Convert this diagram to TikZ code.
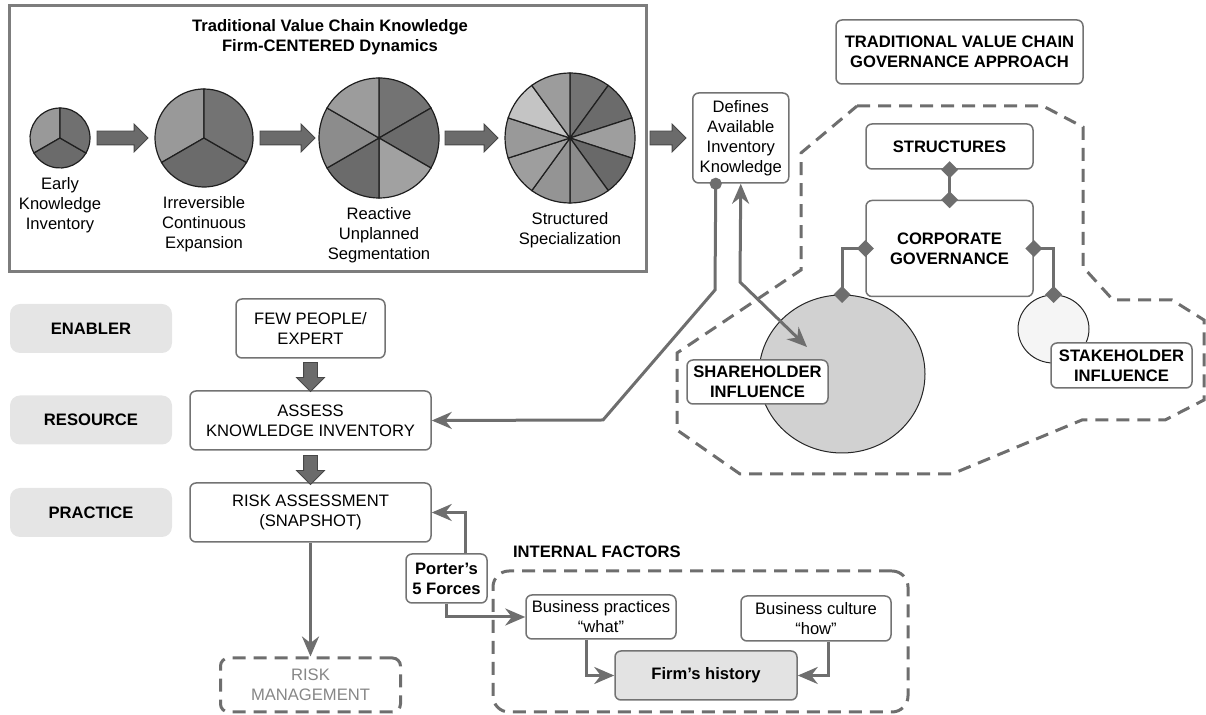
\documentclass[tikz,border=0pt]{standalone}
\usepackage{fontspec}
\setmainfont{Liberation Sans}
\usetikzlibrary{positioning,shapes.geometric,shapes.arrows,arrows.meta}

\begin{document}
\begin{tikzpicture}[x=0.5pt, y=-0.5pt,
    pie node/.style={circle, inner sep=0pt, outer sep=0pt},
    big arrow/.style={single arrow, fill=black!58, draw=black!72, line width=0.4pt,
      inner sep=3.25pt, outer sep=0pt, single arrow head extend=3.5pt},
    pie line/.style={draw=black!88, line width=0.6pt},
    box node/.style={draw=black!55, line width=0.75pt, rounded corners=3pt, fill=white,
      align=center, inner sep=1pt},
    bold/.style={font=\fontsize{8.3pt}{10pt}\selectfont\bfseries},
    bold box/.style={box node, bold},
    tag node/.style={fill=black!10, rounded corners=5pt, minimum width=81pt,
      minimum height=24.5pt, bold},
    dash line/.style={draw=black!57, line width=1.5pt, dash pattern=on 6.5pt off 4pt},
    conn/.style={draw=black!57, line width=1.5pt, >={Stealth[length=10pt,width=8.5pt]}},
    diam/.style={conn, arrows={Diamond[length=8.5pt,width=8.5pt]-Diamond[length=8.5pt,width=8.5pt]},
      shorten <=-4.25pt, shorten >=-4.25pt}]
  \tikzstyle{every node}=[font=\fontsize{8.3pt}{10pt}\selectfont]
  \useasboundingbox (0,0) rectangle (1206,715);

  % governance area
  \draw[dash line] (857,106) -- (1043,106) -- (1083,127) -- (1083,267) -- (1113,300)
    -- (1172,300) -- (1204,320) -- (1204,400) -- (1165,420) -- (1082,420) -- (952,474)
    -- (740,474) -- (677,430) -- (677,353) -- (801,270) -- (801,153) -- cycle;

  % knowledge dynamics
  \node[draw=black!51, line width=1.5pt, minimum width=318.5pt, minimum height=133pt, inner sep=0pt] (0) at (328,138.5) {};
  \node[bold, align=center] (t) at (330,37) {Traditional Value Chain Knowledge\\Firm-CENTERED Dynamics};

  \node[pie node, minimum size=30pt] (1) at (60,138) {};
  \node[big arrow, minimum height=25.5pt, right=3.5pt of 1] (a1) {};
  \node[pie node, minimum size=49pt, right=3.5pt of a1] (2) {};
  \node[big arrow, minimum height=27.5pt, right=3.5pt of 2] (a2) {};
  \node[pie node, minimum size=60pt, right=2pt of a2] (3) {};
  \node[big arrow, minimum height=26.5pt, right=3pt of 3] (a3) {};
  \node[pie node, minimum size=65pt, right=3.5pt of a3] (4) {};
  \node[big arrow, minimum height=18pt, right=7.5pt of 4] (a4) {};
  \node[box node, minimum width=48pt, minimum height=45pt, right=3pt of a4] (5) {Defines\\Available\\Inventory\\Knowledge};

  \foreach \a/\b/\c in {150/270/40, 30/150/58, -90/30/56}
    \filldraw[pie line, fill=black!\c] (1.center) -- +(\a:30) arc[start angle=\a, end angle=\b, radius=30] -- cycle;
  \foreach \a/\b/\c in {150/270/40, 30/150/58, -90/30/55}
    \filldraw[pie line, fill=black!\c] (2.center) -- +(\a:49) arc[start angle=\a, end angle=\b, radius=49] -- cycle;
  \foreach \a/\b/\c in {-90/-30/55, -30/30/58, 30/90/37, 90/150/58, 150/210/45, 210/270/39}
    \filldraw[pie line, fill=black!\c] (3.center) -- +(\a:60) arc[start angle=\a, end angle=\b, radius=60] -- cycle;
  \foreach \a/\b/\c in {-90/-54/55, -54/-18/58, -18/18/38, 18/54/59, 54/90/45, 90/126/42,
      126/162/38, 162/198/40, 198/234/23, 234/270/39}
    \filldraw[pie line, fill=black!\c] (4.center) -- +(\a:65) arc[start angle=\a, end angle=\b, radius=65] -- cycle;

  \node[below=3.5pt of 1, align=center, inner sep=1pt] (1l) {Early\\Knowledge\\Inventory};
  \node[below=3.5pt of 2, align=center, inner sep=1pt] (2l) {Irreversible\\Continuous\\Expansion};
  \node[below=3.5pt of 3, align=center, inner sep=1pt] (3l) {Reactive\\Unplanned\\Segmentation};
  \node[below=3.5pt of 4, align=center, inner sep=1pt] (4l) {Structured\\Specialization};

  % governance approach
  \node[bold box, minimum width=123.5pt, minimum height=32pt] (6) at (959.5,52) {TRADITIONAL VALUE CHAIN\\GOVERNANCE APPROACH};
  \node[bold box, minimum width=83.5pt, minimum height=22.5pt] (7) at (949.5,146.5) {STRUCTURES};
  \node[bold box, minimum width=83.5pt, minimum height=48pt, below=15pt of 7] (8) {CORPORATE\\GOVERNANCE};
  \node[ellipse, draw=black!85, line width=0.5pt, fill=black!18, minimum width=83pt, minimum height=79pt] (9) at (842,374) {};
  \node[ellipse, draw=black!85, line width=0.5pt, fill=black!4, minimum width=35.5pt, minimum height=34pt] (10) at (1053.5,329) {};
  \node[bold box, minimum width=70.5pt, minimum height=22pt] (11) at (757.5,382) {SHAREHOLDER\\INFLUENCE};
  \node[bold box, minimum width=70.5pt, minimum height=22.5pt] (12) at (1121.5,365.5) {STAKEHOLDER\\INFLUENCE};

  % value chain steps
  \node[tag node] (13) at (91,328.5) {ENABLER};
  \node[tag node] (14) at (91,420) {RESOURCE};
  \node[tag node] (15) at (91,512.5) {PRACTICE};
  \node[box node, minimum width=74.5pt, minimum height=29.5pt] (16) at (310.5,328.5) {FEW PEOPLE/\\EXPERT};
  \node[box node, minimum width=120.5pt, minimum height=29.5pt] (17) at (310.5,420.5) {ASSESS\\KNOWLEDGE INVENTORY};
  \node[box node, minimum width=120.5pt, minimum height=29.5pt] (18) at (310.5,512.5) {RISK ASSESSMENT\\(SNAPSHOT)};
  \node[big arrow, rotate=-90, minimum height=14.5pt] (a5) at (310.5,373.5) {};
  \node[big arrow, rotate=-90, minimum height=14.5pt] (a6) at (310.5,466.5) {};
  \node[box node, dash line, rounded corners=4pt, text=black!47, minimum width=90pt, minimum height=27pt] (19) at (310.5,685) {RISK\\MANAGEMENT};

  % internal factors
  \node[bold box, minimum width=40.5pt, minimum height=24.5pt] (20) at (446.5,578.5) {Porter’s\\5 Forces};
  \node[dash line, rounded corners=8pt, minimum width=207.5pt, minimum height=70.5pt] (21) at (700.5,641.5) {};
  \node[bold, anchor=west] (22) at (506,552) {INTERNAL FACTORS};
  \node[box node, minimum width=75pt, minimum height=22pt] (23) at (601,617) {Business practices\\“what”};
  \node[box node, minimum width=75pt, minimum height=22.5pt] (24) at (816,618.5) {Business culture\\“how”};
  \node[bold box, fill=black!11, minimum width=91pt, minimum height=24.5pt] (25) at (706,675.5) {Firm’s history};

  \coordinate (s) at (807,347);

  \draw[conn, arrows={Circle[length=6pt]-Stealth[length=10pt,width=8.5pt]}, shorten <=-3pt]
    ([xshift=-12.5pt]5.south) -- (715,290) -- (603,420) -- (17.east);
  \draw[conn, <->] (5.south) -- (740,282) -- (s);
  \draw[diam] (7) -- (8);
  \draw[diam] (8.west) -| (9.north);
  \draw[diam] (8.east) -| (10.north);
  \draw[conn, ->] (18) -- (19);
  \draw[conn, ->] ([xshift=9.25pt]20.north) |- (18.east);
  \draw[conn, ->] (20.south) |- (23.west);
  \draw[conn, ->] ([xshift=-7.5pt]23.south) |- (25.west);
  \draw[conn, ->] ([xshift=6pt]24.south) |- (25.east);
\end{tikzpicture}
\end{document}
